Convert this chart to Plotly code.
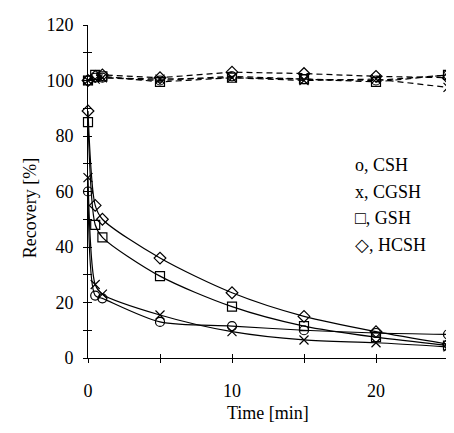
import plotly.graph_objects as go

time_min = [0, 0.5, 1, 5, 10, 15, 20, 25]

# decaying series (solid)
csh_decay = [60, 22.5, 21.5, 13, 11.5, 10, 9, 8.5]
cgsh_decay = [65, 26.5, 23, 15.5, 9.5, 6.5, 5.5, 4]
gsh_decay = [85, 48, 43.5, 29.5, 18.5, 11.5, 7.5, 4.5]
hcsh_decay = [89, 55, 50, 36, 23.5, 15, 9.5, 5]

# stable series (dashed)
csh_stable = [100, 101, 101, 100, 101.5, 100.5, 100, 102]
cgsh_stable = [100, 100.5, 101, 100.5, 101, 100, 100.5, 97.5]
gsh_stable = [100, 102, 101.5, 99.5, 101, 100.5, 99.5, 102]
hcsh_stable = [100, 101.5, 102, 101, 103, 102.5, 101.5, 101]

legend_labels = ["o, CSH", "x, CGSH", "\u25a1, GSH", "\u25c7, HCSH"]
symbols = ["circle-open", "x-thin-open", "square-open", "diamond-open"]
decays = [csh_decay, cgsh_decay, gsh_decay, hcsh_decay]
stables = [csh_stable, cgsh_stable, gsh_stable, hcsh_stable]

FONT = "Liberation Serif"
# page body has an 8px margin, so the figure is drawn 8px in from the window edge
W, H = 446, 425
ML, MR, MT, MB = 80, 6, 17, 75

fig = go.Figure()
for name, sym, dec, stb in zip(legend_labels, symbols, decays, stables):
    fig.add_trace(go.Scatter(
        x=time_min, y=dec, mode="lines+markers", name=name,
        line=dict(color="black", width=1.2, shape="spline", smoothing=0.8),
        marker=dict(symbol=sym, size=9, color="black", line=dict(width=1.2, color="black")),
        cliponaxis=False, showlegend=False))
    fig.add_trace(go.Scatter(
        x=time_min, y=stb, mode="lines+markers", name=name,
        line=dict(color="black", width=1.2, dash="6px,4px"),
        marker=dict(symbol=sym, size=9, color="black", line=dict(width=1.2, color="black")),
        cliponaxis=False, showlegend=False))

# invisible trace for overlay axes (inside ticks -> crossing ticks)
fig.add_trace(go.Scatter(x=[None], y=[None], xaxis="x2", yaxis="y2",
                         showlegend=False, hoverinfo="skip"))

axis_common = dict(showgrid=False, zeroline=False, color="black", automargin=False,
                   tickfont=dict(family=FONT, size=18, color="black"))

fig.update_layout(
    width=W, height=H,
    margin=dict(l=ML, r=MR, t=MT, b=MB),
    paper_bgcolor="white", plot_bgcolor="white",
    font=dict(family=FONT, size=18, color="black"),
    xaxis=dict(range=[0, 25], dtick=10, ticks="outside", ticklen=4, tickwidth=1,
               tickcolor="black", showline=True, linecolor="black", linewidth=1,
               minor=dict(dtick=5, ticks="outside", ticklen=4, tickwidth=1, tickcolor="black"),
               ticklabelstandoff=12, **axis_common),
    yaxis=dict(range=[0, 120], dtick=20, ticks="outside", ticklen=4, tickwidth=1,
               tickcolor="black", showline=True, linecolor="black", linewidth=1,
               minor=dict(dtick=10, ticks="outside", ticklen=4, tickwidth=1, tickcolor="black"),
               ticklabelstandoff=6, **axis_common),
    xaxis2=dict(range=[0, 25], overlaying="x", anchor="y2", side="bottom", dtick=5,
                ticks="inside", ticklen=4, tickwidth=1, tickcolor="black", automargin=False,
                showticklabels=False, showline=False, showgrid=False, zeroline=False),
    yaxis2=dict(range=[0, 120], overlaying="y", anchor="x2", side="left", dtick=10,
                ticks="inside", ticklen=4, tickwidth=1, tickcolor="black", automargin=False,
                showticklabels=False, showline=False, showgrid=False, zeroline=False),
)

# axis titles
fig.add_annotation(text="Time [min]", xref="paper", yref="paper", x=0.5, y=0,
                   yshift=-55, showarrow=False, xanchor="center", yanchor="middle",
                   font=dict(family=FONT, size=18))
fig.add_annotation(text="Recovery [%]", xref="paper", yref="paper", x=0, y=0.45,
                   xshift=-58, textangle=-90, showarrow=False,
                   xanchor="center", yanchor="middle", font=dict(family=FONT, size=18))

# text legend (positions given in window pixels, minus the 8px page offset)
legend_y = [165, 192, 218, 245]
for lbl, py in zip(legend_labels, legend_y):
    fig.add_annotation(text=lbl, xref="paper", yref="paper",
                       x=(353 - 8 - ML) / (W - ML - MR),
                       y=1 - (py - 8 - MT) / (H - MT - MB),
                       showarrow=False, xanchor="left", yanchor="middle",
                       font=dict(family=FONT, size=18))

fig.write_html("out.html")
